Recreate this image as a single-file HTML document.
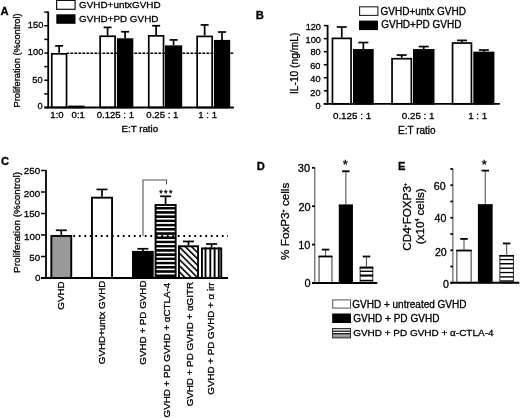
<!DOCTYPE html>
<html><head><meta charset="utf-8"><title>Figure</title>
<style>
html,body{margin:0;padding:0;background:#fff;width:520px;height:419px;overflow:hidden;}
svg{display:block;}
text{font-family:"Liberation Sans",Arial,Helvetica,sans-serif;fill:#000;stroke:#000;stroke-width:0.3px;}
</style></head><body>
<svg width="520" height="419" viewBox="0 0 520 419">
<rect width="520" height="419" fill="#fff"/>
<defs><pattern id="hs" patternUnits="userSpaceOnUse" width="8" height="4.22" y="205.25"><rect width="8" height="4.22" fill="#000"/><rect y="-0.1" width="8" height="1.8" fill="#fff"/></pattern><pattern id="ds" patternUnits="userSpaceOnUse" width="4.42" height="8" patternTransform="rotate(-45)"><rect width="4.42" height="8" fill="#fff"/><rect width="1.6" height="8" fill="#000"/></pattern></defs>
<rect x="56.6" y="0.4" width="18.5" height="8.9" fill="#fff" stroke="#111" stroke-width="1.2"/>
<rect x="56.3" y="14.3" width="19.2" height="9.5" fill="#000"/>
<line x1="48.2" y1="11.53" x2="48.2" y2="108.3" stroke="#000" stroke-width="1.8" />
<line x1="44.3" y1="107.5" x2="48.2" y2="107.5" stroke="#000" stroke-width="1.5" />
<line x1="44.3" y1="93.88" x2="48.2" y2="93.88" stroke="#000" stroke-width="1.5" />
<line x1="44.3" y1="80.25" x2="48.2" y2="80.25" stroke="#000" stroke-width="1.5" />
<line x1="44.3" y1="66.62" x2="48.2" y2="66.62" stroke="#000" stroke-width="1.5" />
<line x1="44.3" y1="53" x2="48.2" y2="53" stroke="#000" stroke-width="1.5" />
<line x1="44.3" y1="39.38" x2="48.2" y2="39.38" stroke="#000" stroke-width="1.5" />
<line x1="44.3" y1="25.75" x2="48.2" y2="25.75" stroke="#000" stroke-width="1.5" />
<line x1="44.3" y1="12.12" x2="48.2" y2="12.12" stroke="#000" stroke-width="1.5" />
<line x1="59.15" y1="53" x2="59.15" y2="45.91" stroke="#000" stroke-width="1.7" />
<line x1="55.15" y1="45.91" x2="63.15" y2="45.91" stroke="#000" stroke-width="1.7" />
<rect x="51.75" y="53.85" width="14.8" height="53.65" fill="#fff" stroke="#000" stroke-width="1.7"/>
<rect x="69.05" y="106.44" width="14.7" height="1.06" fill="#000" stroke="#000" stroke-width="1.7"/>
<line x1="107.6" y1="35.4" x2="107.6" y2="27.38" stroke="#000" stroke-width="1.7" />
<line x1="103.6" y1="27.38" x2="111.6" y2="27.38" stroke="#000" stroke-width="1.7" />
<rect x="100.15" y="36.25" width="14.9" height="71.25" fill="#fff" stroke="#000" stroke-width="1.7"/>
<line x1="125.1" y1="38.28" x2="125.1" y2="31.74" stroke="#000" stroke-width="1.7" />
<line x1="121.1" y1="31.74" x2="129.1" y2="31.74" stroke="#000" stroke-width="1.7" />
<rect x="117.75" y="39.13" width="14.7" height="68.37" fill="#000" stroke="#000" stroke-width="1.7"/>
<line x1="156.15" y1="35.02" x2="156.15" y2="25.75" stroke="#000" stroke-width="1.7" />
<line x1="152.15" y1="25.75" x2="160.15" y2="25.75" stroke="#000" stroke-width="1.7" />
<rect x="148.75" y="35.87" width="14.8" height="71.64" fill="#fff" stroke="#000" stroke-width="1.7"/>
<line x1="173.6" y1="45.37" x2="173.6" y2="39.92" stroke="#000" stroke-width="1.7" />
<line x1="169.6" y1="39.92" x2="177.6" y2="39.92" stroke="#000" stroke-width="1.7" />
<rect x="165.85" y="46.22" width="15.5" height="61.28" fill="#000" stroke="#000" stroke-width="1.7"/>
<line x1="204.65" y1="35.56" x2="204.65" y2="24.93" stroke="#000" stroke-width="1.7" />
<line x1="200.65" y1="24.93" x2="208.65" y2="24.93" stroke="#000" stroke-width="1.7" />
<rect x="197.15" y="36.41" width="15" height="71.09" fill="#fff" stroke="#000" stroke-width="1.7"/>
<line x1="222.05" y1="39.92" x2="222.05" y2="32.02" stroke="#000" stroke-width="1.7" />
<line x1="218.05" y1="32.02" x2="226.05" y2="32.02" stroke="#000" stroke-width="1.7" />
<rect x="214.75" y="40.77" width="14.6" height="66.73" fill="#000" stroke="#000" stroke-width="1.7"/>
<line x1="44.3" y1="107.5" x2="233.8" y2="107.5" stroke="#000" stroke-width="1.8" />
<line x1="66.4" y1="53.3" x2="233.8" y2="53.3" stroke="#000" stroke-width="1.5" stroke-dasharray="2.8 1.2"/>
<rect x="359.6" y="6.8" width="18.3" height="8.6" fill="#fff" stroke="#222" stroke-width="1.1"/>
<rect x="359.0" y="20.6" width="19.0" height="9.5" fill="#000"/>
<line x1="327.6" y1="25" x2="327.6" y2="104.6" stroke="#000" stroke-width="1.8" />
<line x1="323.8" y1="103.8" x2="327.6" y2="103.8" stroke="#000" stroke-width="1.5" />
<line x1="323.8" y1="90.77" x2="327.6" y2="90.77" stroke="#000" stroke-width="1.5" />
<line x1="323.8" y1="77.73" x2="327.6" y2="77.73" stroke="#000" stroke-width="1.5" />
<line x1="323.8" y1="64.7" x2="327.6" y2="64.7" stroke="#000" stroke-width="1.5" />
<line x1="323.8" y1="51.66" x2="327.6" y2="51.66" stroke="#000" stroke-width="1.5" />
<line x1="323.8" y1="38.63" x2="327.6" y2="38.63" stroke="#000" stroke-width="1.5" />
<line x1="323.8" y1="25.6" x2="327.6" y2="25.6" stroke="#000" stroke-width="1.5" />
<line x1="341.75" y1="37.52" x2="341.75" y2="27.03" stroke="#000" stroke-width="1.7" />
<line x1="336.75" y1="27.03" x2="346.75" y2="27.03" stroke="#000" stroke-width="1.7" />
<rect x="332.45" y="38.37" width="18.6" height="65.43" fill="#fff" stroke="#000" stroke-width="1.7"/>
<line x1="363.35" y1="49.06" x2="363.35" y2="42.54" stroke="#000" stroke-width="1.7" />
<line x1="358.35" y1="42.54" x2="368.35" y2="42.54" stroke="#000" stroke-width="1.7" />
<rect x="353.85" y="49.91" width="19" height="53.89" fill="#000" stroke="#000" stroke-width="1.7"/>
<line x1="401.7" y1="57.86" x2="401.7" y2="55.05" stroke="#000" stroke-width="1.7" />
<line x1="396.7" y1="55.05" x2="406.7" y2="55.05" stroke="#000" stroke-width="1.7" />
<rect x="392.05" y="58.71" width="19.3" height="45.09" fill="#fff" stroke="#000" stroke-width="1.7"/>
<line x1="423.75" y1="49.06" x2="423.75" y2="46.58" stroke="#000" stroke-width="1.7" />
<line x1="418.75" y1="46.58" x2="428.75" y2="46.58" stroke="#000" stroke-width="1.7" />
<rect x="413.85" y="49.91" width="19.8" height="53.89" fill="#000" stroke="#000" stroke-width="1.7"/>
<line x1="462" y1="42.21" x2="462" y2="40.39" stroke="#000" stroke-width="1.7" />
<line x1="457" y1="40.39" x2="467" y2="40.39" stroke="#000" stroke-width="1.7" />
<rect x="452.55" y="43.06" width="18.9" height="60.74" fill="#fff" stroke="#000" stroke-width="1.7"/>
<line x1="483.85" y1="51.66" x2="483.85" y2="50.03" stroke="#000" stroke-width="1.7" />
<line x1="478.85" y1="50.03" x2="488.85" y2="50.03" stroke="#000" stroke-width="1.7" />
<rect x="474.15" y="52.51" width="19.4" height="51.29" fill="#000" stroke="#000" stroke-width="1.7"/>
<line x1="323.8" y1="103.8" x2="499.8" y2="103.8" stroke="#000" stroke-width="1.8" />
<line x1="46" y1="169.9" x2="46" y2="278.8" stroke="#000" stroke-width="1.8" />
<line x1="41" y1="278" x2="46" y2="278" stroke="#000" stroke-width="1.5" />
<line x1="41" y1="256.5" x2="46" y2="256.5" stroke="#000" stroke-width="1.5" />
<line x1="41" y1="235" x2="46" y2="235" stroke="#000" stroke-width="1.5" />
<line x1="41" y1="213.5" x2="46" y2="213.5" stroke="#000" stroke-width="1.5" />
<line x1="41" y1="192" x2="46" y2="192" stroke="#000" stroke-width="1.5" />
<line x1="41" y1="170.5" x2="46" y2="170.5" stroke="#000" stroke-width="1.5" />
<polyline points="143,236 143,180 166.5,180 166.5,184.5" fill="none" stroke="#555" stroke-width="1.1"/>
<line x1="61.3" y1="235" x2="61.3" y2="230.27" stroke="#000" stroke-width="1.7" />
<line x1="55.8" y1="230.27" x2="66.8" y2="230.27" stroke="#000" stroke-width="1.7" />
<rect x="51.35" y="235.95" width="19.9" height="42.05" fill="#999" stroke="#000" stroke-width="1.9"/>
<line x1="102" y1="196.73" x2="102" y2="189.42" stroke="#000" stroke-width="1.7" />
<line x1="96.5" y1="189.42" x2="107.5" y2="189.42" stroke="#000" stroke-width="1.7" />
<rect x="91.95" y="197.68" width="20.1" height="80.32" fill="#fff" stroke="#000" stroke-width="1.9"/>
<line x1="142.85" y1="250.91" x2="142.85" y2="248.76" stroke="#000" stroke-width="1.7" />
<line x1="137.35" y1="248.76" x2="148.35" y2="248.76" stroke="#000" stroke-width="1.7" />
<rect x="132.95" y="251.86" width="19.8" height="26.14" fill="#000" stroke="#000" stroke-width="1.9"/>
<line x1="165.6" y1="204.04" x2="165.6" y2="196.3" stroke="#000" stroke-width="1.7" />
<line x1="160.1" y1="196.3" x2="171.1" y2="196.3" stroke="#000" stroke-width="1.7" />
<rect x="155.55" y="204.99" width="20.1" height="73.01" fill="url(#hs)" stroke="#000" stroke-width="1.9"/>
<line x1="188.5" y1="245.32" x2="188.5" y2="241.45" stroke="#000" stroke-width="1.7" />
<line x1="183" y1="241.45" x2="194" y2="241.45" stroke="#000" stroke-width="1.7" />
<rect x="178.95" y="246.27" width="19.1" height="31.73" fill="url(#ds)" stroke="#000" stroke-width="1.9"/>
<line x1="211.6" y1="247.47" x2="211.6" y2="244.03" stroke="#000" stroke-width="1.7" />
<line x1="206.1" y1="244.03" x2="217.1" y2="244.03" stroke="#000" stroke-width="1.7" />
<rect x="201.95" y="248.42" width="19.3" height="29.58" fill="#fff" stroke="#000" stroke-width="1.9"/>
<rect x="204.55" y="247.47" width="1.9" height="30.53" fill="#000"/>
<rect x="209.35" y="247.47" width="1.9" height="30.53" fill="#000"/>
<rect x="213.65" y="247.47" width="1.9" height="30.53" fill="#000"/>
<rect x="217.85" y="247.47" width="1.9" height="30.53" fill="#000"/>
<line x1="41" y1="278" x2="228" y2="278" stroke="#000" stroke-width="1.8" />
<line x1="73.3" y1="236" x2="228" y2="236" stroke="#000" stroke-width="1.8" stroke-dasharray="1.8 3.7"/>
<line x1="314.8" y1="167.8" x2="314.8" y2="283" stroke="#444" stroke-width="1" />
<line x1="312" y1="283" x2="314.8" y2="283" stroke="#000" stroke-width="1.8" />
<line x1="312" y1="244.6" x2="314.8" y2="244.6" stroke="#000" stroke-width="1.8" />
<line x1="312" y1="206.2" x2="314.8" y2="206.2" stroke="#000" stroke-width="1.8" />
<line x1="312" y1="167.8" x2="314.8" y2="167.8" stroke="#000" stroke-width="1.8" />
<line x1="325.5" y1="255.74" x2="325.5" y2="249.59" stroke="#555" stroke-width="1.1" />
<line x1="321.75" y1="249.59" x2="329.25" y2="249.59" stroke="#000" stroke-width="1.8" />
<rect x="319.05" y="256.29" width="12.9" height="26.71" fill="#fff" stroke="#444" stroke-width="1.1"/>
<line x1="318.5" y1="256.54" x2="332.5" y2="256.54" stroke="#000" stroke-width="1.7" />
<line x1="345.85" y1="204.66" x2="345.85" y2="171.26" stroke="#555" stroke-width="1.1" />
<line x1="342.1" y1="171.26" x2="349.6" y2="171.26" stroke="#000" stroke-width="1.8" />
<rect x="339.35" y="205.21" width="13" height="77.79" fill="#000" stroke="#000" stroke-width="1.1"/>
<line x1="338.8" y1="205.46" x2="352.9" y2="205.46" stroke="#000" stroke-width="1.7" />
<line x1="366.45" y1="266.87" x2="366.45" y2="256.5" stroke="#555" stroke-width="1.1" />
<line x1="362.7" y1="256.5" x2="370.2" y2="256.5" stroke="#000" stroke-width="1.8" />
<rect x="360.15" y="267.42" width="12.6" height="15.58" fill="#fff" stroke="#444" stroke-width="1.1"/>
<line x1="359.6" y1="267.67" x2="373.3" y2="267.67" stroke="#000" stroke-width="1.7" />
<rect x="360" y="266.7" width="13" height="1.6" fill="#000"/>
<rect x="360" y="270.6" width="13" height="1.4" fill="#000"/>
<rect x="360" y="274.5" width="13" height="2.1" fill="#000"/>
<rect x="360" y="279.8" width="13" height="1.6" fill="#000"/>
<line x1="312" y1="283" x2="377.3" y2="283" stroke="#000" stroke-width="2" />
<line x1="452.9" y1="168.98" x2="452.9" y2="282.8" stroke="#444" stroke-width="1" />
<line x1="450.4" y1="282.8" x2="452.9" y2="282.8" stroke="#000" stroke-width="1.8" />
<line x1="450.4" y1="266.54" x2="452.9" y2="266.54" stroke="#000" stroke-width="1.8" />
<line x1="450.4" y1="250.28" x2="452.9" y2="250.28" stroke="#000" stroke-width="1.8" />
<line x1="450.4" y1="234.02" x2="452.9" y2="234.02" stroke="#000" stroke-width="1.8" />
<line x1="450.4" y1="217.76" x2="452.9" y2="217.76" stroke="#000" stroke-width="1.8" />
<line x1="450.4" y1="201.5" x2="452.9" y2="201.5" stroke="#000" stroke-width="1.8" />
<line x1="450.4" y1="185.24" x2="452.9" y2="185.24" stroke="#000" stroke-width="1.8" />
<line x1="450.4" y1="168.98" x2="452.9" y2="168.98" stroke="#000" stroke-width="1.8" />
<line x1="464" y1="249.79" x2="464" y2="238.9" stroke="#555" stroke-width="1.1" />
<line x1="460.25" y1="238.9" x2="467.75" y2="238.9" stroke="#000" stroke-width="1.8" />
<rect x="456.85" y="250.34" width="14.3" height="32.46" fill="#fff" stroke="#444" stroke-width="1.1"/>
<line x1="456.3" y1="250.59" x2="471.7" y2="250.59" stroke="#000" stroke-width="1.7" />
<line x1="485.25" y1="204.43" x2="485.25" y2="170.61" stroke="#555" stroke-width="1.1" />
<line x1="481.5" y1="170.61" x2="489" y2="170.61" stroke="#000" stroke-width="1.8" />
<rect x="478.45" y="204.98" width="13.6" height="77.82" fill="#000" stroke="#000" stroke-width="1.1"/>
<line x1="477.9" y1="205.23" x2="492.6" y2="205.23" stroke="#000" stroke-width="1.7" />
<line x1="506.65" y1="255" x2="506.65" y2="243.45" stroke="#555" stroke-width="1.1" />
<line x1="502.9" y1="243.45" x2="510.4" y2="243.45" stroke="#000" stroke-width="1.8" />
<rect x="499.85" y="255.55" width="13.6" height="27.25" fill="#fff" stroke="#444" stroke-width="1.1"/>
<line x1="499.3" y1="255.8" x2="514" y2="255.8" stroke="#000" stroke-width="1.7" />
<rect x="500" y="258.9" width="13.5" height="1.3" fill="#000"/>
<rect x="500" y="263" width="13.5" height="1.5" fill="#000"/>
<rect x="500" y="267.5" width="13.5" height="1.4" fill="#000"/>
<rect x="500" y="271.9" width="13.5" height="1.3" fill="#000"/>
<rect x="500" y="276.2" width="13.5" height="1.4" fill="#000"/>
<rect x="500" y="280.3" width="13.5" height="1.4" fill="#000"/>
<line x1="450.4" y1="282.8" x2="519.3" y2="282.8" stroke="#000" stroke-width="2" />
<rect x="332.7" y="299.9" width="17.8" height="8.2" fill="#fff" stroke="#555" stroke-width="1"/>
<rect x="332.2" y="313.5" width="18.8" height="9.5" fill="#000"/>
<rect x="332.5" y="328.5" width="18" height="9.4" fill="#8e8e8e" stroke="#333" stroke-width="1"/>
<rect x="333" y="329.1" width="17" height="1.7" fill="#d0d0d0"/>
<rect x="333" y="330.8" width="17" height="1.1" fill="#111"/>
<rect x="333" y="331.9" width="17" height="1.2" fill="#fff"/>
<rect x="333" y="333.1" width="17" height="1.1" fill="#111"/>
<rect x="333" y="335.2" width="17" height="1.0" fill="#b0b0b0"/>
<text x="0.5" y="14.7" font-size="11.2" font-weight="bold">A</text>
<text x="79.1" y="8.16" font-size="9.9">GVHD+untxGVHD</text>
<text x="79.12" y="21.7" font-size="9.9">GVHD+PD GVHD</text>
<text x="43.34" y="28.43" font-size="9.3" text-anchor="end">150</text>
<text x="43.34" y="55.07" font-size="9.3" text-anchor="end">100</text>
<text x="42.58" y="83.03" font-size="9.3" text-anchor="end">50</text>
<text x="42.69" y="109.4" font-size="9.3" text-anchor="end">0</text>
<text transform="translate(20.08,60.42) rotate(-90)" font-size="9.26" text-anchor="middle">Proliferation (%control)</text>
<text x="56.98" y="118.3" font-size="9.6" text-anchor="middle">1:0</text>
<text x="78.25" y="118.3" font-size="9.6" text-anchor="middle">0:1</text>
<text x="115.32" y="118.3" font-size="9.6" text-anchor="middle">0.125 : 1</text>
<text x="162.34" y="118.3" font-size="9.6" text-anchor="middle">0.25 : 1</text>
<text x="207.66" y="118.3" font-size="9.6" text-anchor="middle">1 : 1</text>
<text x="139.82" y="131.82" font-size="9.78" text-anchor="middle">E:T ratio</text>
<text x="255.72" y="19.44" font-size="11.2" font-weight="bold">B</text>
<text x="380.6" y="15.11" font-size="10">GVHD+untx GVHD</text>
<text x="381.19" y="28.35" font-size="10">GVHD+PD GVHD</text>
<text x="320.98" y="30.11" font-size="9.2" text-anchor="end">120</text>
<text x="320.9" y="42.67" font-size="9.2" text-anchor="end">100</text>
<text x="320.64" y="55.31" font-size="9.2" text-anchor="end">80</text>
<text x="320.44" y="69.48" font-size="9.2" text-anchor="end">60</text>
<text x="320.59" y="81.67" font-size="9.2" text-anchor="end">40</text>
<text x="320.59" y="96.09" font-size="9.2" text-anchor="end">20</text>
<text x="320.7" y="108.62" font-size="9.2" text-anchor="end">0</text>
<text transform="translate(297.88,63.32) rotate(-90)" font-size="10.25" text-anchor="middle">IL-10 (ng/mL)</text>
<text x="352.08" y="119.46" font-size="9.85" text-anchor="middle">0.125 : 1</text>
<text x="418.13" y="119.44" font-size="9.85" text-anchor="middle">0.25 : 1</text>
<text x="477.71" y="119.43" font-size="9.85" text-anchor="middle">1 : 1</text>
<text x="416.8" y="134.33" font-size="10" text-anchor="middle">E:T ratio</text>
<text x="1.1" y="164.5" font-size="11.2" font-weight="bold">C</text>
<text x="40.21" y="174.27" font-size="9.8" text-anchor="end">250</text>
<text x="40.1" y="197.14" font-size="9.8" text-anchor="end">200</text>
<text x="40.08" y="217.28" font-size="9.8" text-anchor="end">150</text>
<text x="40.44" y="239.63" font-size="9.8" text-anchor="end">100</text>
<text x="40.28" y="260.55" font-size="9.8" text-anchor="end">50</text>
<text x="40.42" y="280.73" font-size="9.8" text-anchor="end">0</text>
<text transform="translate(20.1,222.49) rotate(-90)" font-size="9.94" text-anchor="middle">Proliferation (%control)</text>
<text transform="translate(64,281.43) rotate(-90)" font-size="9.8" text-anchor="end">GVHD</text>
<text transform="translate(105.32,280.6) rotate(-90)" font-size="9.8" text-anchor="end">GVHD+untx GVHD</text>
<text transform="translate(146.34,280.53) rotate(-90)" font-size="9.8" text-anchor="end">GVHD + PD GVHD</text>
<text transform="translate(170,282.73) rotate(-90)" font-size="9.8" text-anchor="end">GVHD + PD GVHD + αCTLA-4</text>
<text transform="translate(193.18,282.03) rotate(-90)" font-size="9.8" text-anchor="end">GVHD + PD GVHD + αGITR</text>
<text transform="translate(214.33,282.38) rotate(-90)" font-size="9.8" text-anchor="end">GVHD + PD GVHD + α irr</text>
<text x="166.54" y="195.5" font-size="9" text-anchor="middle" letter-spacing="1.4">***</text>
<text x="256.7" y="169.54" font-size="11.2" font-weight="bold">D</text>
<text x="310.02" y="171.88" font-size="11" text-anchor="end">30</text>
<text x="310.66" y="211" font-size="11" text-anchor="end">20</text>
<text x="310.5" y="248.54" font-size="11" text-anchor="end">10</text>
<text x="310.67" y="286.94" font-size="11" text-anchor="end">0</text>
<text transform="translate(289.39,221.28) rotate(-90)" font-size="11.71" text-anchor="middle">% FoxP3<tspan font-size="0.45em" dy="-0.75em">+</tspan><tspan dy="0.3375em"> cells</tspan></text>
<text x="345.39" y="168.65" font-size="13" text-anchor="middle">*</text>
<text x="397.88" y="169.78" font-size="11.2" font-weight="bold">E</text>
<text x="445.66" y="190.3" font-size="10.6" text-anchor="end">60</text>
<text x="446.4" y="222.32" font-size="10.6" text-anchor="end">40</text>
<text x="446.7" y="255.6" font-size="10.6" text-anchor="end">20</text>
<text x="448.8" y="287.57" font-size="10.6" text-anchor="end">0</text>
<text transform="translate(410.72,216.88) rotate(-90)" font-size="11.65" text-anchor="middle">CD4<tspan font-size="0.45em" dy="-0.75em">+</tspan><tspan dy="0.3375em">FOXP3</tspan><tspan font-size="0.45em" dy="-0.75em">+</tspan></text>
<text transform="translate(423.71,216.26) rotate(-90)" font-size="11.62" text-anchor="middle">(x10<tspan font-size="0.45em" dy="-0.89em">4</tspan><tspan dy="0.4em"> cells)</tspan></text>
<text x="484.2" y="169" font-size="13" text-anchor="middle">*</text>
<text x="352.25" y="307.7" font-size="10">GVHD + untreated GVHD</text>
<text x="353.2" y="321.6" font-size="10.06">GVHD + PD GVHD</text>
<text x="353.15" y="336.31" font-size="9.98">GVHD + PD GVHD + α-CTLA-4</text>
</svg>
</body></html>
